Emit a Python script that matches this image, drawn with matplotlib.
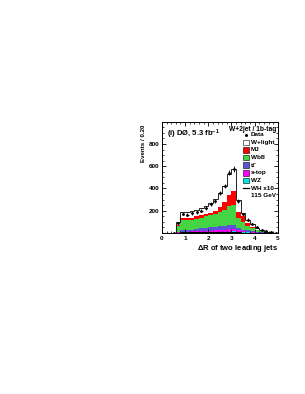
import numpy as np
import matplotlib.pyplot as plt
from matplotlib.patches import Rectangle

# bins of 0.2 in Delta R, from 0 to 5
edges = np.round(np.arange(0, 5.01, 0.2), 2)

# stacked backgrounds, bottom to top (events per bin)
wz = [0, 0, 0, 2, 4, 5, 6, 6, 7, 8, 9, 10, 10, 11, 12, 13, 9, 6, 4, 2, 1, 1, 0, 0, 0]
stop = [0, 0, 0, 2, 6, 7, 8, 9, 10, 11, 12, 13, 15, 17, 20, 20, 13, 8, 6, 4, 2, 1, 1, 0, 0]
ttbar = [0, 0, 0, 6, 12, 13, 16, 20, 23, 26, 29, 32, 35, 37, 36, 37, 23, 16, 12, 9, 5, 3, 2, 1, 0]
wbb = [0, 0, 1, 52, 93, 90, 90, 92, 98, 103, 107, 115, 125, 145, 172, 180, 85, 70, 42, 30, 17, 9, 3, 1, 1]
mj = [0, 0, 1, 13, 20, 15, 18, 21, 22, 24, 26, 30, 45, 72, 102, 130, 60, 50, 21, 10, 5, 3, 2, 1, 0]
wlight = [0, 0, 1, 22, 53, 55, 57, 57, 60, 73, 87, 105, 130, 143, 188, 195, 110, 30, 30, 21, 15, 8, 4, 2, 1]

data = [0, 0, 2, 88, 170, 165, 175, 185, 200, 225, 260, 290, 360, 420, 540, 575, 290, 170, 120, 80, 50, 30, 15, 8, 3]
wh_x10 = [0, 0, 0, 2, 5, 7, 8, 9, 10, 10, 11, 11, 12, 12, 12, 11, 6, 3, 2, 1, 1, 0, 0, 0, 0]

# (values, colour, label, last letter gets an anti-particle bar)
components = [
    (wz, '#00e5e5', 'WZ', False),
    (stop, '#ff00ff', 's-top', False),
    (ttbar, '#5a55d6', 'tt', True),
    (wbb, '#44d444', 'Wbb', True),
    (mj, '#ff0000', 'MJ', False),
    (wlight, 'white', 'W+light', False),
]

plt.rcParams['font.family'] = ['Liberation Sans', 'DejaVu Sans']
plt.rcParams['font.weight'] = 'bold'
plt.rcParams['mathtext.default'] = 'regular'

fig = plt.figure(figsize=(3.05, 3.94), dpi=100)
ax = fig.add_axes([0.531, 0.409, 0.38, 0.282])

bottom = np.zeros(len(edges) - 1)
for vals, col, lab, bar in components:
    vals = np.array(vals, dtype=float)
    ax.stairs(bottom + vals, edges, baseline=bottom, fill=True, color=col, lw=0)
    bottom = bottom + vals
ax.stairs(bottom, edges, color='black', lw=0.6)
ax.stairs(wh_x10, edges, color='black', lw=0.8)

centers = 0.5 * (edges[:-1] + edges[1:])
d = np.array(data, dtype=float)
m = d > 0
ax.errorbar(centers[m], d[m], yerr=np.sqrt(d[m]), xerr=0.05, fmt='o', ms=1.0,
            color='black', elinewidth=0.6, capsize=0)

ax.set_xlim(0, 5)
ax.set_ylim(0, 1000)
ax.set_xticks([0, 1, 2, 3, 4, 5])
ax.set_yticks([200, 400, 600, 800])
ax.set_xticks(np.arange(0, 5.01, 0.2), minor=True)
ax.set_yticks(np.arange(0, 1000, 50), minor=True)
ax.tick_params(direction='in', labelsize=4.6, length=3, width=0.6, top=True, right=True, pad=2)
ax.tick_params(which='minor', direction='in', length=1.5, width=0.5, top=True, right=True)
for s in ax.spines.values():
    s.set_linewidth(0.7)

ax.set_xlabel(r'$\Delta$R of two leading jets', fontsize=5.5, fontweight='bold', ha='right', x=1.0, labelpad=2)
ax.set_ylabel('Events / 0.20', fontsize=4.4, fontweight='bold', ha='right', y=0.97, labelpad=2)

ax.text(0.04, 0.95, r'(i) DØ, 5.3 fb$^{-1}$', transform=ax.transAxes, fontsize=5.5,
        fontweight='bold', va='top')
ax.text(0.99, 0.965, 'W+2jet / 1b-tag', transform=ax.transAxes, fontsize=4.8,
        fontweight='bold', va='top', ha='right')

# legend drawn by hand to match the compact spacing
lx, ly, step = 0.698, 0.883, 0.0685
bw, bh = 0.055, 0.05
tx = lx + bw + 0.012
fs = 4.6
renderer = fig.canvas.get_renderer()
inv = ax.transAxes.inverted()

ax.plot([lx + 0.028], [ly], 'o', ms=1.2, color='black', transform=ax.transAxes)
ax.text(tx, ly, 'Data', transform=ax.transAxes, fontsize=fs, va='center')
row = 1
for vals, col, lab, bar in reversed(components):
    y = ly - row * step
    ax.add_patch(Rectangle((lx, y - bh / 2), bw, bh, facecolor=col, edgecolor='black',
                           lw=0.4, transform=ax.transAxes))
    t = ax.text(tx, y, lab, transform=ax.transAxes, fontsize=fs, va='center')
    if bar:
        # overbar on the last letter (anti-quark)
        full = t.get_window_extent(renderer)
        tmp = ax.text(tx, y, lab[:-1], transform=ax.transAxes, fontsize=fs, va='center')
        part = tmp.get_window_extent(renderer)
        tmp.remove()
        (x0, yb), (x1, _) = inv.transform([(part.x1 + 0.3, full.y1 - 0.3), (full.x1 - 0.2, full.y1)])
        ax.plot([x0, x1], [yb, yb], color='black', lw=0.4, transform=ax.transAxes)
    row += 1
y = ly - row * step
ax.plot([lx, lx + bw], [y, y], color='black', lw=0.9, transform=ax.transAxes)
ax.text(tx, y, 'WH x10', transform=ax.transAxes, fontsize=fs, va='center')
ax.text(tx, y - step, '115 GeV', transform=ax.transAxes, fontsize=fs, va='center')

fig.savefig('out.png', dpi=100)
